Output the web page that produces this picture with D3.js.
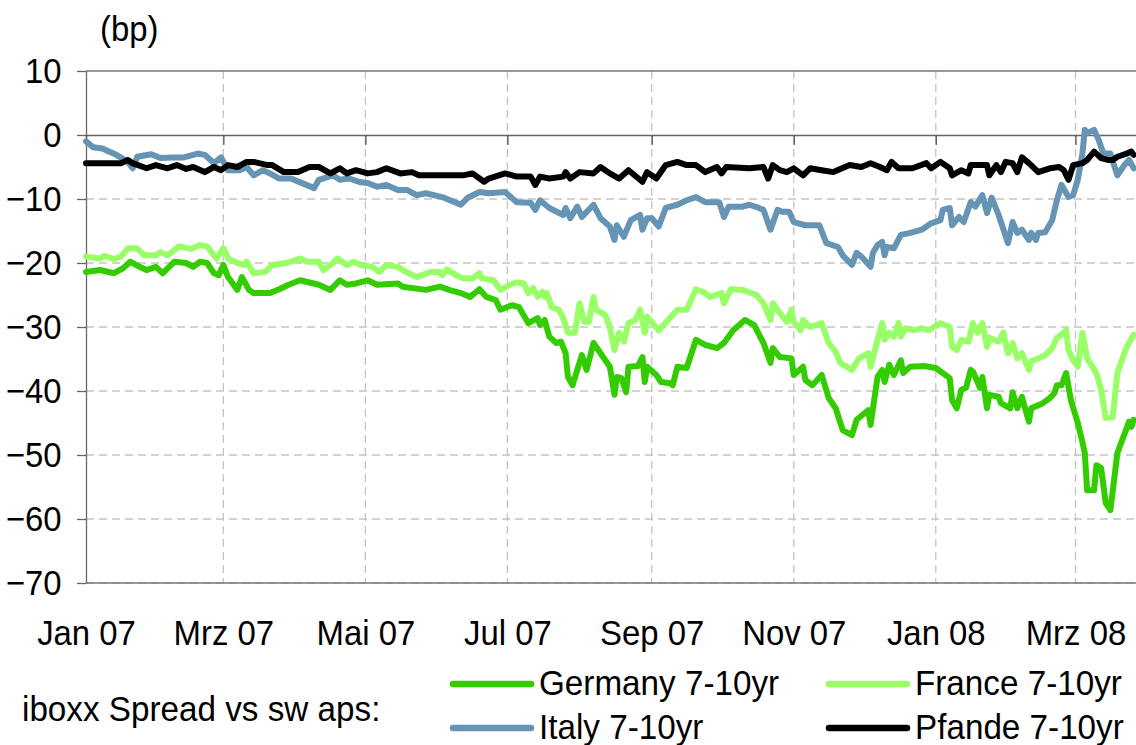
<!DOCTYPE html>
<html>
<head>
<meta charset="utf-8">
<script src="https://cdn.jsdelivr.net/npm/d3@7"></script>
<style>
  body { margin: 0; background: #fff; }
  svg { display: block; font-family: "Liberation Sans", Arial, sans-serif; }
</style>
</head>
<body>
<svg id="chart" width="1136" height="745"></svg>
<script>
// iboxx spreads vs swaps, bp
var germany = [
  ["2007-01-01",-21.4],["2007-01-07",-21.1],["2007-01-13",-21.6],["2007-01-17",-20.8],["2007-01-20",-19.8],
  ["2007-01-24",-20.6],["2007-01-27",-21.1],["2007-01-31",-20.6],["2007-02-03",-21.6],["2007-02-08",-19.8],
  ["2007-02-13",-20.0],["2007-02-16",-20.6],["2007-02-19",-19.8],["2007-02-22",-20.0],["2007-02-25",-21.6],
  ["2007-02-27",-21.9],["2007-03-01",-20.3],["2007-03-03",-22.2],["2007-03-07",-24.2],["2007-03-09",-22.2],
  ["2007-03-12",-24.2],["2007-03-14",-24.7],["2007-03-21",-24.7],["2007-03-25",-24.1],["2007-03-29",-23.4],
  ["2007-04-03",-22.7],["2007-04-11",-23.4],["2007-04-16",-24.2],["2007-04-20",-22.7],["2007-04-23",-23.4],
  ["2007-04-27",-23.2],["2007-05-02",-22.7],["2007-05-06",-23.4],["2007-05-15",-23.2],["2007-05-17",-23.7],
  ["2007-05-27",-24.2],["2007-06-02",-23.7],["2007-06-06",-24.2],["2007-06-11",-24.7],["2007-06-15",-25.3],
  ["2007-06-19",-24.1],["2007-06-22",-25.3],["2007-06-26",-25.8],["2007-06-28",-27.3],["2007-07-03",-26.6],
  ["2007-07-06",-26.9],["2007-07-10",-29.4],["2007-07-14",-28.6],["2007-07-15",-29.7],["2007-07-17",-28.9],
  ["2007-07-19",-31.5],["2007-07-22",-32.5],["2007-07-24",-32.3],["2007-07-26",-34.1],["2007-07-27",-37.8],
  ["2007-07-29",-39.1],["2007-07-31",-36.7],["2007-08-02",-34.4],["2007-08-04",-36.7],["2007-08-07",-32.5],
  ["2007-08-10",-34.1],["2007-08-14",-36.2],["2007-08-16",-40.6],["2007-08-17",-37.8],["2007-08-19",-38.0],
  ["2007-08-21",-40.2],["2007-08-22",-36.2],["2007-08-26",-36.1],["2007-08-28",-34.7],["2007-08-29",-38.6],
  ["2007-08-30",-36.2],["2007-09-03",-37.5],["2007-09-05",-38.6],["2007-09-09",-38.8],["2007-09-10",-39.1],
  ["2007-09-12",-36.2],["2007-09-16",-36.4],["2007-09-20",-32.0],["2007-09-24",-32.8],["2007-09-29",-33.3],
  ["2007-10-02",-32.5],["2007-10-06",-30.5],["2007-10-11",-28.9],["2007-10-15",-29.7],["2007-10-19",-32.5],
  ["2007-10-22",-35.6],["2007-10-23",-33.3],["2007-10-26",-34.7],["2007-10-31",-34.9],["2007-11-01",-37.5],
  ["2007-11-05",-36.2],["2007-11-06",-38.3],["2007-11-09",-39.1],["2007-11-13",-37.5],["2007-11-16",-41.1],
  ["2007-11-19",-42.7],["2007-11-22",-46.1],["2007-11-26",-46.9],["2007-11-28",-44.5],["2007-12-03",-43.0],
  ["2007-12-04",-45.3],["2007-12-07",-37.8],["2007-12-09",-36.7],["2007-12-10",-38.6],["2007-12-12",-35.9],
  ["2007-12-14",-37.5],["2007-12-17",-35.2],["2007-12-18",-37.2],["2007-12-21",-36.2],["2007-12-27",-36.1],
  ["2008-01-01",-36.4],["2008-01-07",-38.0],["2008-01-08",-41.4],["2008-01-10",-42.7],["2008-01-12",-39.8],
  ["2008-01-14",-39.5],["2008-01-16",-36.7],["2008-01-17",-37.0],["2008-01-20",-39.5],["2008-01-21",-37.8],
  ["2008-01-23",-42.7],["2008-01-24",-40.6],["2008-01-28",-40.9],["2008-01-29",-41.9],["2008-02-02",-42.7],
  ["2008-02-03",-40.2],["2008-02-05",-42.7],["2008-02-07",-40.9],["2008-02-10",-44.8],["2008-02-11",-42.7],
  ["2008-02-16",-41.9],["2008-02-19",-41.1],["2008-02-21",-40.3],["2008-02-22",-39.1],["2008-02-24",-39.1],
  ["2008-02-26",-37.2],["2008-02-28",-41.4],["2008-03-02",-45.0],["2008-03-04",-48.0],["2008-03-05",-49.7],
  ["2008-03-06",-55.5],["2008-03-09",-55.5],["2008-03-10",-51.6],["2008-03-12",-52.0],["2008-03-14",-57.5],
  ["2008-03-16",-58.6],["2008-03-19",-49.7],["2008-03-24",-44.8],["2008-03-25",-45.6],["2008-03-26",-44.5]
];

var france = [
  ["2007-01-01",-19.0],["2007-01-07",-19.3],["2007-01-09",-18.9],["2007-01-13",-19.4],["2007-01-16",-19.0],
  ["2007-01-19",-17.7],["2007-01-23",-17.7],["2007-01-26",-18.8],["2007-01-31",-18.8],["2007-02-02",-18.3],
  ["2007-02-05",-18.8],["2007-02-10",-17.4],["2007-02-15",-17.8],["2007-02-19",-17.2],["2007-02-22",-17.4],
  ["2007-02-26",-19.3],["2007-03-01",-17.7],["2007-03-03",-19.3],["2007-03-07",-20.0],["2007-03-10",-20.3],
  ["2007-03-11",-19.8],["2007-03-14",-21.6],["2007-03-19",-21.4],["2007-03-22",-20.3],["2007-03-28",-20.0],
  ["2007-04-03",-19.3],["2007-04-06",-19.8],["2007-04-11",-19.8],["2007-04-13",-21.1],["2007-04-17",-20.0],
  ["2007-04-19",-19.3],["2007-04-23",-20.3],["2007-04-26",-19.8],["2007-04-29",-20.3],["2007-05-04",-20.6],
  ["2007-05-07",-21.4],["2007-05-10",-20.3],["2007-05-15",-20.6],["2007-05-17",-21.1],["2007-05-23",-22.2],
  ["2007-05-29",-21.4],["2007-06-02",-21.4],["2007-06-03",-21.9],["2007-06-05",-21.0],["2007-06-09",-21.9],
  ["2007-06-12",-22.4],["2007-06-16",-22.4],["2007-06-19",-21.6],["2007-06-20",-22.4],["2007-06-25",-22.7],
  ["2007-06-28",-24.2],["2007-07-02",-23.4],["2007-07-05",-23.0],["2007-07-08",-23.2],["2007-07-10",-24.7],
  ["2007-07-12",-23.9],["2007-07-14",-25.3],["2007-07-16",-24.5],["2007-07-17",-25.3],["2007-07-18",-24.7],
  ["2007-07-20",-26.9],["2007-07-23",-27.3],["2007-07-25",-28.6],["2007-07-27",-30.9],["2007-07-30",-30.9],
  ["2007-08-01",-26.3],["2007-08-03",-29.2],["2007-08-05",-29.2],["2007-08-07",-25.3],["2007-08-08",-27.3],
  ["2007-08-12",-28.1],["2007-08-14",-30.0],["2007-08-16",-33.6],["2007-08-18",-30.9],["2007-08-20",-32.3],
  ["2007-08-22",-29.4],["2007-08-25",-28.9],["2007-08-27",-27.3],["2007-08-29",-30.9],["2007-08-30",-28.4],
  ["2007-09-04",-30.5],["2007-09-12",-27.3],["2007-09-16",-27.3],["2007-09-20",-24.1],["2007-09-24",-24.7],
  ["2007-09-26",-25.3],["2007-10-01",-24.7],["2007-10-02",-26.3],["2007-10-05",-24.1],["2007-10-10",-24.2],
  ["2007-10-16",-25.0],["2007-10-19",-26.3],["2007-10-22",-28.9],["2007-10-23",-26.3],["2007-10-26",-27.8],
  ["2007-10-29",-29.2],["2007-10-31",-27.3],["2007-11-01",-29.2],["2007-11-04",-30.5],["2007-11-05",-28.9],
  ["2007-11-08",-30.0],["2007-11-13",-29.4],["2007-11-16",-32.5],["2007-11-19",-33.9],["2007-11-21",-35.6],
  ["2007-11-26",-36.7],["2007-11-29",-34.9],["2007-12-03",-34.1],["2007-12-04",-36.2],["2007-12-07",-32.0],
  ["2007-12-09",-29.4],["2007-12-10",-32.0],["2007-12-12",-30.9],["2007-12-14",-31.5],["2007-12-16",-29.4],
  ["2007-12-17",-31.5],["2007-12-19",-30.2],["2007-12-23",-30.5],["2007-12-26",-30.2],["2007-12-29",-30.5],
  ["2008-01-03",-29.4],["2008-01-07",-30.0],["2008-01-08",-33.1],["2008-01-10",-33.6],["2008-01-12",-32.0],
  ["2008-01-15",-32.3],["2008-01-17",-29.4],["2008-01-19",-30.9],["2008-01-21",-29.4],["2008-01-23",-33.1],
  ["2008-01-24",-31.7],["2008-01-28",-32.3],["2008-01-30",-30.9],["2008-02-01",-34.1],["2008-02-03",-32.5],
  ["2008-02-05",-34.9],["2008-02-07",-34.1],["2008-02-10",-36.7],["2008-02-11",-35.4],["2008-02-14",-34.9],
  ["2008-02-17",-34.4],["2008-02-20",-33.3],["2008-02-22",-31.7],["2008-02-24",-31.2],["2008-02-26",-30.5],
  ["2008-02-27",-33.6],["2008-02-29",-35.2],["2008-03-02",-36.2],["2008-03-04",-30.9],["2008-03-06",-34.9],
  ["2008-03-10",-37.2],["2008-03-12",-39.8],["2008-03-14",-44.2],["2008-03-17",-44.1],["2008-03-19",-37.2],
  ["2008-03-23",-33.1],["2008-03-26",-31.2]
];

var italy = [
  ["2007-01-01",-1.0],["2007-01-04",-1.9],["2007-01-08",-2.1],["2007-01-14",-3.1],["2007-01-19",-4.2],
  ["2007-01-21",-5.2],["2007-01-23",-3.4],["2007-01-29",-3.0],["2007-02-02",-3.6],["2007-02-07",-3.5],
  ["2007-02-12",-3.5],["2007-02-18",-2.9],["2007-02-21",-3.1],["2007-02-25",-4.4],["2007-02-28",-3.5],
  ["2007-03-03",-5.5],["2007-03-08",-5.5],["2007-03-11",-5.0],["2007-03-14",-6.3],["2007-03-18",-5.5],
  ["2007-03-21",-6.0],["2007-03-25",-6.8],["2007-03-30",-6.8],["2007-04-03",-7.4],["2007-04-09",-8.3],
  ["2007-04-11",-7.0],["2007-04-17",-6.3],["2007-04-20",-7.0],["2007-04-24",-6.8],["2007-04-29",-7.4],
  ["2007-05-02",-7.5],["2007-05-06",-8.1],["2007-05-10",-7.8],["2007-05-15",-8.6],["2007-05-19",-8.6],
  ["2007-05-23",-9.4],["2007-05-27",-9.1],["2007-06-03",-9.7],["2007-06-11",-10.9],["2007-06-14",-9.8],
  ["2007-06-19",-8.9],["2007-06-23",-9.1],["2007-06-30",-8.9],["2007-07-05",-10.5],["2007-07-11",-10.6],
  ["2007-07-13",-11.7],["2007-07-15",-10.2],["2007-07-19",-11.4],["2007-07-25",-12.5],["2007-07-26",-11.4],
  ["2007-07-28",-13.0],["2007-07-31",-11.2],["2007-08-02",-12.8],["2007-08-07",-10.9],["2007-08-10",-13.0],
  ["2007-08-14",-14.3],["2007-08-16",-16.4],["2007-08-17",-14.1],["2007-08-20",-15.9],["2007-08-23",-13.3],
  ["2007-08-27",-12.5],["2007-08-28",-14.8],["2007-08-30",-13.0],["2007-09-01",-13.0],["2007-09-04",-14.3],
  ["2007-09-07",-11.4],["2007-09-12",-10.9],["2007-09-16",-10.2],["2007-09-20",-9.7],["2007-09-24",-10.5],
  ["2007-09-30",-10.5],["2007-10-02",-12.8],["2007-10-04",-11.2],["2007-10-10",-11.2],["2007-10-13",-10.9],
  ["2007-10-17",-11.4],["2007-10-19",-11.7],["2007-10-22",-14.8],["2007-10-25",-11.7],["2007-10-27",-12.0],
  ["2007-10-30",-12.0],["2007-11-01",-13.6],["2007-11-06",-14.1],["2007-11-12",-14.1],["2007-11-15",-16.9],
  ["2007-11-20",-17.5],["2007-11-22",-18.8],["2007-11-26",-20.3],["2007-11-28",-18.4],["2007-11-30",-19.0],
  ["2007-12-04",-20.6],["2007-12-05",-18.4],["2007-12-07",-17.2],["2007-12-09",-16.7],["2007-12-10",-18.8],
  ["2007-12-11",-17.5],["2007-12-14",-17.7],["2007-12-17",-15.6],["2007-12-21",-15.3],["2007-12-26",-14.8],
  ["2007-12-30",-13.8],["2008-01-03",-13.3],["2008-01-04",-11.7],["2008-01-07",-11.4],["2008-01-08",-14.1],
  ["2008-01-11",-12.8],["2008-01-13",-13.6],["2008-01-16",-10.5],["2008-01-18",-11.2],["2008-01-21",-9.4],
  ["2008-01-23",-12.2],["2008-01-25",-9.8],["2008-01-28",-12.5],["2008-02-01",-16.9],["2008-02-03",-13.6],
  ["2008-02-05",-15.3],["2008-02-07",-14.8],["2008-02-10",-16.4],["2008-02-11",-15.3],["2008-02-13",-16.4],
  ["2008-02-14",-15.3],["2008-02-17",-15.2],["2008-02-20",-13.3],["2008-02-22",-10.2],["2008-02-24",-7.8],
  ["2008-02-27",-9.7],["2008-02-29",-9.4],["2008-03-02",-7.0],["2008-03-04",-2.9],["2008-03-05",0.8],
  ["2008-03-06",0.3],["2008-03-09",0.8],["2008-03-11",-0.8],["2008-03-13",-2.9],["2008-03-16",-2.9],
  ["2008-03-19",-6.3],["2008-03-22",-4.7],["2008-03-24",-3.9],["2008-03-26",-5.2]
];

var pfande = [
  ["2007-01-01",-4.4],["2007-01-16",-4.4],["2007-01-19",-3.9],["2007-01-21",-4.4],["2007-01-27",-5.2],
  ["2007-01-31",-4.7],["2007-02-05",-5.2],["2007-02-09",-4.7],["2007-02-13",-5.3],["2007-02-16",-5.0],
  ["2007-02-21",-5.8],["2007-02-25",-5.0],["2007-02-28",-5.5],["2007-03-03",-4.7],["2007-03-07",-5.0],
  ["2007-03-11",-4.2],["2007-03-14",-4.2],["2007-03-20",-4.7],["2007-03-22",-4.7],["2007-03-27",-5.8],
  ["2007-04-02",-5.8],["2007-04-07",-5.0],["2007-04-11",-5.0],["2007-04-16",-6.0],["2007-04-20",-5.2],
  ["2007-04-23",-6.0],["2007-04-27",-5.5],["2007-05-02",-6.0],["2007-05-06",-5.8],["2007-05-10",-5.2],
  ["2007-05-16",-6.0],["2007-05-21",-5.8],["2007-05-24",-6.3],["2007-05-29",-6.3],["2007-06-12",-6.3],
  ["2007-06-16",-6.0],["2007-06-21",-7.3],["2007-06-23",-6.8],["2007-06-30",-6.0],["2007-07-05",-6.5],
  ["2007-07-11",-6.5],["2007-07-13",-7.8],["2007-07-15",-6.5],["2007-07-19",-6.8],["2007-07-25",-6.5],
  ["2007-07-26",-5.8],["2007-07-28",-6.8],["2007-08-01",-5.8],["2007-08-07",-6.0],["2007-08-10",-5.0],
  ["2007-08-14",-6.0],["2007-08-18",-6.8],["2007-08-22",-5.5],["2007-08-28",-7.3],["2007-08-30",-5.8],
  ["2007-09-03",-6.8],["2007-09-07",-4.7],["2007-09-12",-4.2],["2007-09-16",-4.7],["2007-09-20",-4.7],
  ["2007-09-24",-5.8],["2007-09-29",-5.0],["2007-10-01",-6.0],["2007-10-03",-5.0],["2007-10-13",-5.2],
  ["2007-10-19",-5.0],["2007-10-21",-6.8],["2007-10-23",-4.7],["2007-10-26",-5.5],["2007-10-29",-5.8],
  ["2007-11-01",-5.2],["2007-11-05",-6.3],["2007-11-08",-5.2],["2007-11-13",-5.5],["2007-11-18",-5.8],
  ["2007-11-25",-4.7],["2007-11-30",-5.0],["2007-12-04",-4.4],["2007-12-08",-5.0],["2007-12-11",-5.5],
  ["2007-12-13",-4.2],["2007-12-16",-5.2],["2007-12-22",-5.2],["2007-12-28",-4.4],["2007-12-30",-5.2],
  ["2008-01-03",-4.2],["2008-01-07",-5.2],["2008-01-08",-6.3],["2008-01-12",-5.5],["2008-01-15",-6.0],
  ["2008-01-16",-4.7],["2008-01-23",-4.7],["2008-01-24",-6.3],["2008-01-27",-4.7],["2008-01-29",-5.8],
  ["2008-01-31",-4.2],["2008-02-03",-4.4],["2008-02-05",-5.8],["2008-02-07",-3.5],["2008-02-10",-4.4],
  ["2008-02-14",-5.8],["2008-02-19",-5.2],["2008-02-23",-5.0],["2008-02-25",-5.5],["2008-02-27",-7.0],
  ["2008-02-29",-4.7],["2008-03-04",-4.4],["2008-03-06",-3.9],["2008-03-09",-2.6],["2008-03-12",-3.6],
  ["2008-03-15",-3.9],["2008-03-17",-3.9],["2008-03-19",-3.4],["2008-03-23",-2.9],["2008-03-25",-2.6],
  ["2008-03-26",-3.1]
];

var seriesNames = ["Germany 7-10yr", "France 7-10yr", "Italy 7-10yr", "Pfande 7-10yr"];
var seriesColors = ["#33cc00", "#99ff66", "#6594b4", "#000000"];
var yTicks = [10, 0, -10, -20, -30, -40, -50, -60, -70];
var xTickDates = ["2007-01-01", "2007-03-01", "2007-05-01", "2007-07-01", "2007-09-01", "2007-11-01", "2008-01-01", "2008-03-01"];
var xTickLabels = ["Jan 07", "Mrz 07", "Mai 07", "Jul 07", "Sep 07", "Nov 07", "Jan 08", "Mrz 08"];

(function() {
    var parse = d3.timeParse("%Y-%m-%d");
    var plotLeft = 86, plotRight = 1136, plotTop = 71, plotBottom = 583;
    var squeeze = "scale(0.94,1)";
    var fontSize = 35;

    var svg = d3.select("#chart");

    var x = d3.scaleTime()
        .domain([parse("2007-01-01"), parse("2008-03-27")])
        .range([plotLeft, plotRight]);

    var y = d3.scaleLinear()
        .domain([-70, 10])
        .range([plotBottom, plotTop]);

    var tickDates = xTickDates.map(parse);

    // dashed grid
    var grid = svg.append("g")
        .attr("stroke", "#c4c4c4")
        .attr("stroke-width", 1.3)
        .attr("stroke-dasharray", "8,5");

    grid.selectAll("line.h")
        .data(yTicks.filter(function(d) { return d < 0; }))
        .enter().append("line")
        .attr("class", "h")
        .attr("x1", plotLeft).attr("x2", plotRight)
        .attr("y1", function(d) { return y(d); })
        .attr("y2", function(d) { return y(d); });

    grid.selectAll("line.v")
        .data(tickDates.slice(1))
        .enter().append("line")
        .attr("class", "v")
        .attr("x1", function(d) { return x(d); })
        .attr("x2", function(d) { return x(d); })
        .attr("y1", plotTop).attr("y2", plotBottom);

    // frame lines top and bottom
    svg.append("g")
        .attr("stroke", "#777")
        .attr("stroke-width", 1.3)
        .selectAll("line")
        .data([10, -70])
        .enter().append("line")
        .attr("x1", plotLeft).attr("x2", plotRight)
        .attr("y1", function(d) { return y(d); })
        .attr("y2", function(d) { return y(d); });

    // y axis
    var yAxis = svg.append("g")
        .attr("transform", "translate(" + plotLeft + ",0)")
        .call(d3.axisLeft(y).tickValues(yTicks).tickSize(9).tickPadding(17).tickSizeOuter(0));

    yAxis.select(".domain").attr("stroke", "#666").attr("stroke-width", 1.3);
    yAxis.selectAll(".tick line").attr("stroke", "#666").attr("stroke-width", 1.3);
    yAxis.selectAll(".tick text")
        .attr("font-size", fontSize)
        .attr("fill", "#000")
        .attr("font-family", "Liberation Sans, Arial, sans-serif")
        .attr("transform", squeeze);

    // x axis on the zero line
    var xAxis = svg.append("g")
        .attr("transform", "translate(0," + y(0) + ")")
        .call(d3.axisBottom(x).tickValues(tickDates).tickSize(10).tickSizeOuter(0).tickFormat(""));

    xAxis.select(".domain").attr("stroke", "#666").attr("stroke-width", 1.3);
    xAxis.selectAll(".tick line").attr("stroke", "#555").attr("stroke-width", 1.3);

    // month labels below the plot
    var xLabels = svg.append("g")
        .attr("transform", "translate(0," + plotBottom + ")")
        .call(d3.axisBottom(x).tickValues(tickDates).tickSize(0).tickPadding(37)
            .tickFormat(function(d, i) { return xTickLabels[i]; }));

    xLabels.select(".domain").remove();
    xLabels.selectAll(".tick text")
        .attr("font-size", fontSize)
        .attr("fill", "#000")
        .attr("font-family", "Liberation Sans, Arial, sans-serif")
        .attr("transform", squeeze);

    // unit label
    svg.append("text")
        .attr("transform", "translate(100,41) " + squeeze)
        .attr("font-size", fontSize)
        .text("(bp)");

    // series
    var line = d3.line()
        .x(function(d) { return x(parse(d[0])); })
        .y(function(d) { return y(d[1]); });

    var allSeries = [germany, france, italy, pfande];

    svg.append("g")
        .selectAll("path")
        .data(allSeries)
        .enter().append("path")
        .attr("d", line)
        .attr("fill", "none")
        .attr("stroke", function(d, i) { return seriesColors[i]; })
        .attr("stroke-width", 6)
        .attr("stroke-linejoin", "round")
        .attr("stroke-linecap", "round");

    // legend
    svg.append("text")
        .attr("transform", "translate(22,721) scale(0.95,1)")
        .attr("font-size", fontSize)
        .text("iboxx Spread vs sw aps:");

    var legendPos = [[453, 684], [829, 684], [453, 728], [829, 728]];

    var legend = svg.append("g")
        .selectAll("g")
        .data(seriesNames)
        .enter().append("g")
        .attr("transform", function(d, i) { return "translate(" + legendPos[i][0] + "," + legendPos[i][1] + ")"; });

    legend.append("line")
        .attr("x1", 0).attr("x2", 78)
        .attr("stroke", function(d, i) { return seriesColors[i]; })
        .attr("stroke-width", 6.5)
        .attr("stroke-linecap", "round");

    legend.append("text")
        .attr("transform", "translate(86,11) scale(0.95,1)")
        .attr("font-size", fontSize)
        .text(function(d) { return d; });
})();
</script>
</body>
</html>
